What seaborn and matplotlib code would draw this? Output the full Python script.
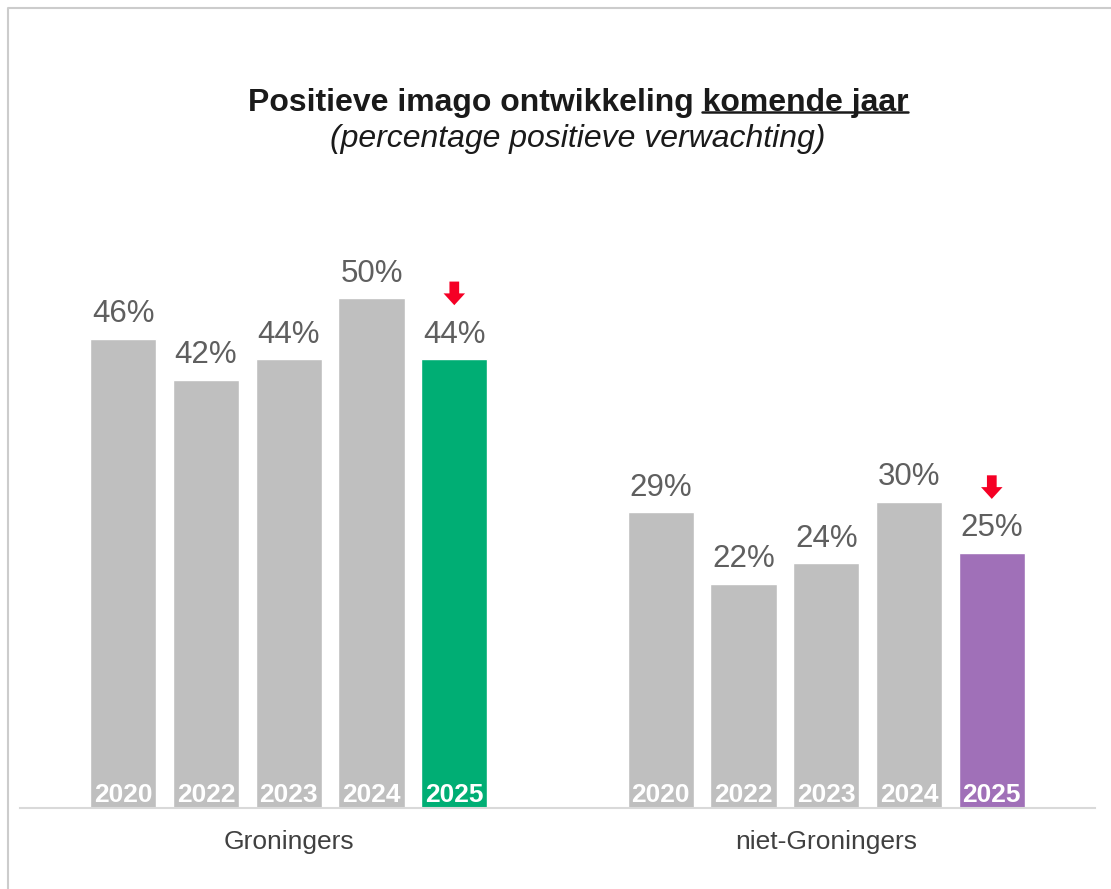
"""Positieve imago ontwikkeling komende jaar - grouped bars per year."""

import matplotlib.pyplot as plt
import pandas as pd
import seaborn as sns
from matplotlib.lines import Line2D
from matplotlib.transforms import offset_copy

groups = ["Groningers", "niet-Groningers"]
years = ["2020", "2022", "2023", "2024", "2025"]
groningers = [46, 42, 44, 50, 44]
niet_groningers = [29, 22, 24, 30, 25]
highlight = {"Groningers": "#00AE74", "niet-Groningers": "#A070B8"}
arrow_down = {"Groningers": True, "niet-Groningers": True}

GREY = "#BFBFBF"
LABEL_GREY = "#5F5F5F"
RED = "#F50025"

df = pd.DataFrame({
    "group": [g for g in groups for _ in years],
    "year": years * len(groups),
    "pct": groningers + niet_groningers,
})

sns.set_theme(style="white")
plt.rcParams["font.family"] = ["Liberation Sans", "DejaVu Sans"]

fig = plt.figure(figsize=(11.11, 8.89), dpi=100)
ax = fig.add_axes([20 / 1111, 1 - 808 / 889, 1075 / 1111, 571 / 889])

sns.barplot(
    data=df, x="group", y="pct", hue="year", order=groups, hue_order=years,
    palette=[GREY] * len(years), width=0.77, gap=0.2, saturation=1,
    legend=False, ax=ax,
)
ax.set_xlim(-0.5, 1.5)
ax.set_ylim(0, 56)

# arrow sits above the value label of the latest year
tip_tr = offset_copy(ax.transData, fig=fig, x=0, y=39, units="points")
tail_tr = offset_copy(ax.transData, fig=fig, x=0, y=56, units="points")

for year, container in zip(years, ax.containers):
    for group, bar in zip(groups, container):
        x = bar.get_x() + bar.get_width() / 2
        h = bar.get_height()
        if year == years[-1]:
            bar.set_facecolor(highlight[group])
        ax.annotate(f"{h:.0f}%", (x, h), xytext=(0, 12), textcoords="offset points",
                    ha="center", va="baseline", fontsize=22.5, color=LABEL_GREY)
        ax.annotate(year, (x, 0), xytext=(0, 4.5), textcoords="offset points",
                    ha="center", va="baseline", fontsize=19, fontweight="bold",
                    color="white")
        if year == years[-1] and arrow_down[group]:
            ax.annotate(
                "", xy=(x, h), xycoords=tip_tr, xytext=(x, h), textcoords=tail_tr,
                arrowprops=dict(arrowstyle="simple,head_width=15.5,head_length=8.5,tail_width=7",
                                mutation_scale=1, color=RED, shrinkA=0, shrinkB=0, lw=0),
            )

ax.set_xlabel("")
ax.set_ylabel("")
ax.set_yticks([])
ax.tick_params(axis="x", length=0, pad=16, labelsize=19, labelcolor="#404040")
sns.despine(ax=ax, left=True)
ax.spines["bottom"].set_color("#D9D9D9")
ax.spines["bottom"].set_linewidth(1.5)

title = fig.text(578 / 1111, 1 - 103 / 889, "Positieve imago ontwikkeling komende jaar",
                 ha="center", va="center", fontsize=23, fontweight="bold", color="#1A1A1A")
fig.text(578 / 1111, 1 - 139 / 889, "(percentage positieve verwachting)",
         ha="center", va="center", fontsize=23, fontstyle="italic", color="#1A1A1A")

# underline "komende jaar"
renderer = fig.canvas.get_renderer()
tb = title.get_window_extent(renderer)
probe = fig.text(0, 0, "komende jaar", fontsize=23, fontweight="bold")
pw = probe.get_window_extent(renderer).width
probe.remove()
y_line = (tb.y0 + tb.height * 0.2) / fig.bbox.height
fig.add_artist(Line2D([(tb.x1 - pw) / fig.bbox.width, tb.x1 / fig.bbox.width],
                      [y_line, y_line], transform=fig.transFigure,
                      color="#1A1A1A", lw=1.8))

fig.add_artist(Line2D([7.5 / 1111, 7.5 / 1111, 1], [0, 1 - 7.5 / 889, 1 - 7.5 / 889],
                      transform=fig.transFigure, color="#CCCCCC", lw=1.5))

fig.savefig("out.png", dpi=100)
